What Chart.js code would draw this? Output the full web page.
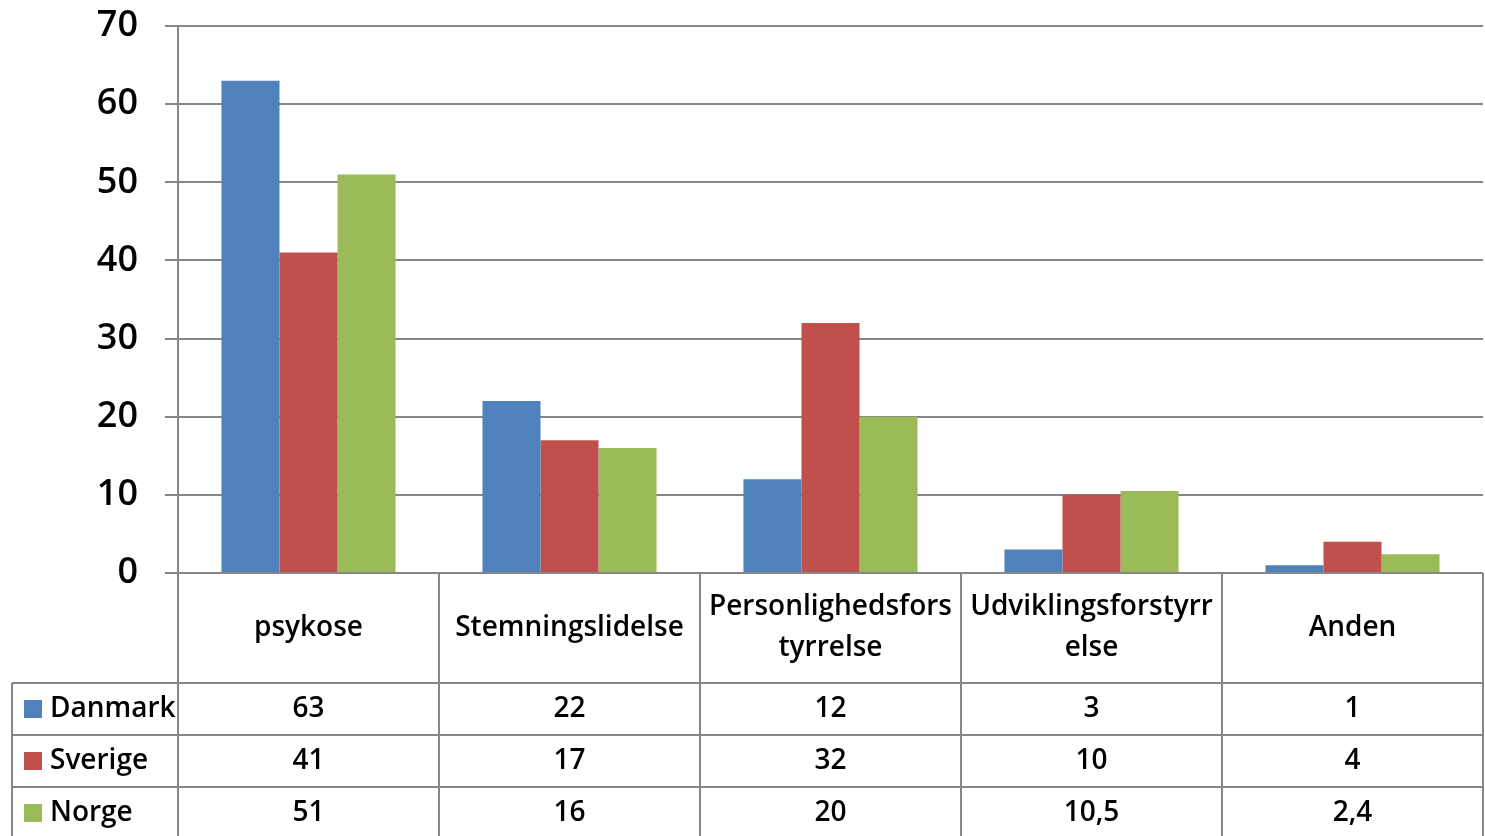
<!DOCTYPE html>
<html>
<head>
<meta charset="utf-8">
<script src="https://cdn.jsdelivr.net/npm/chart.js@4.4.1/dist/chart.umd.min.js"></script>
<style>
  html, body { margin: 0; padding: 0; background: #fff; }
  #wrap { width: 1485px; height: 836px; }
</style>
</head>
<body>
<div id="wrap"><canvas id="chart"></canvas></div>
<script>
// categories (line breaks as wrapped in the table header)
var categories = [['psykose'], ['Stemningslidelse'], ['Personlighedsfors', 'tyrrelse'], ['Udviklingsforstyrr', 'else'], ['Anden']];
var danmark = [63, 22, 12, 3, 1];
var sverige = [41, 17, 32, 10, 4];
var norge = [51, 16, 20, 10.5, 2.4];
var yTicks = [0, 10, 20, 30, 40, 50, 60, 70];

var gridColor = '#868686';
var fontFam = '"Open Sans", "DejaVu Sans", sans-serif';

// data table under the plot, drawn from the same arrays
var dataTable = {
    id: 'dataTable',
    afterDraw: function(chart) {
        var ctx = chart.ctx;
        var area = chart.chartArea;
        var xs = chart.scales.x;
        var n = categories.length;
        var cw = (area.right - area.left) / n;
        var top = area.bottom;
        var headBottom = top + 110;
        var rowH = 52;
        var tableLeft = 12;
        var bottom = 836;

        ctx.save();
        ctx.strokeStyle = gridColor;
        ctx.lineWidth = 2;
        ctx.beginPath();
        // horizontal lines
        ctx.moveTo(area.left, top); ctx.lineTo(area.right, top);
        for (var r = 0; r < 3; r++) {
            var y = headBottom + r * rowH;
            ctx.moveTo(tableLeft, y); ctx.lineTo(area.right, y);
        }
        // vertical lines
        ctx.moveTo(tableLeft, headBottom); ctx.lineTo(tableLeft, bottom);
        ctx.moveTo(area.left, top); ctx.lineTo(area.left, bottom);
        for (var i = 0; i < n; i++) {
            var xr = xs.getPixelForValue(i) + cw / 2;
            ctx.moveTo(xr, top); ctx.lineTo(xr, bottom);
        }
        ctx.stroke();

        ctx.fillStyle = '#000';
        ctx.textAlign = 'center';
        ctx.textBaseline = 'middle';
        ctx.font = '600 28px ' + fontFam;
        for (var i = 0; i < n; i++) {
            var cx = xs.getPixelForValue(i);
            var lines = categories[i];
            var lh = 41;
            var y0 = (top + headBottom) / 2 - (lines.length - 1) * lh / 2;
            for (var k = 0; k < lines.length; k++) {
                ctx.fillText(lines[k], cx, y0 + k * lh);
            }
        }
        chart.data.datasets.forEach(function(ds, r) {
            var cy = headBottom + r * rowH + rowH / 2;
            ctx.textAlign = 'center';
            for (var i = 0; i < n; i++) {
                ctx.fillText(String(ds.data[i]).replace('.', ','), xs.getPixelForValue(i), cy);
            }
            ctx.fillStyle = ds.backgroundColor;
            ctx.fillRect(24, cy - 9, 18, 18);
            ctx.fillStyle = '#000';
            ctx.textAlign = 'left';
            ctx.fillText(ds.label, 50, cy);
        });
        ctx.restore();
    }
};

var ctx = document.getElementById('chart').getContext('2d');
new Chart(ctx, {
    type: 'bar',
    data: {
        labels: categories.map(function(c) { return c.join(''); }),
        datasets: [
            { label: 'Danmark', data: danmark, backgroundColor: '#4F81BD' },
            { label: 'Sverige', data: sverige, backgroundColor: '#C0504D' },
            { label: 'Norge', data: norge, backgroundColor: '#9BBB59' }
        ]
    },
    options: {
        responsive: true,
        maintainAspectRatio: false,
        animation: false,
        layout: { padding: { top: 26, right: 2, bottom: 263, left: 0 } },
        categoryPercentage: 0.667,
        barPercentage: 1,
        plugins: { legend: { display: false }, tooltip: { enabled: false } },
        scales: {
            x: { display: false },
            y: {
                min: 0,
                max: 70,
                afterFit: function(scale) {
                    scale.width = 178;
                    scale.paddingTop = 0;
                    scale.paddingBottom = 0;
                },
                afterBuildTicks: function(scale) {
                    scale.ticks = yTicks.map(function(v) { return { value: v }; });
                },
                grid: { color: gridColor, lineWidth: 2, tickLength: 13 },
                border: { color: gridColor, width: 2 },
                ticks: {
                    color: '#000',
                    padding: 27,
                    font: { family: fontFam, size: 36, weight: '600' }
                }
            }
        }
    },
    plugins: [dataTable]
});
</script>
</body>
</html>
